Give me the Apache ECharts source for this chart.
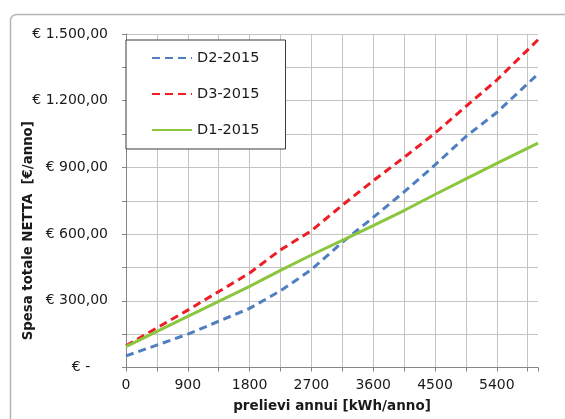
<!DOCTYPE html>
<html>
<head>
<meta charset="utf-8">
<script src="https://cdn.jsdelivr.net/npm/echarts@6/dist/echarts.min.js"></script>
<style>
html,body{margin:0;padding:0;background:#fff;}
#chart{width:565px;height:419px;}
</style>
</head>
<body>
<div id="chart"></div>
<script>
// Consumption points (kWh/anno)
const xValues = [0, 900, 1800, 2250, 2700, 3150, 3600, 4050, 4500, 4950, 5400, 6000];
// Series values (€/anno)
const d2Values = [52, 150, 266, 345, 440, 563, 675, 790, 911, 1039, 1147, 1320];
const d3Values = [98, 258, 425, 529, 615, 730, 840, 945, 1054, 1174, 1293, 1474];
const d1Values = [94, 230, 365, 437, 506, 572, 638, 706, 778, 848, 918, 1009];
const seriesNames = ['D2-2015', 'D3-2015', 'D1-2015'];
// Tick labels
const xTicks = [0, 900, 1800, 2700, 3600, 4500, 5400];
const xTickLabels = ['0', '900', '1800', '2700', '3600', '4500', '5400'];
const yTicks = [0, 300, 600, 900, 1200, 1500];
const yTickLabels = ['€ -    ', '€ 300,00', '€ 600,00', '€ 900,00', '€ 1.200,00', '€ 1.500,00'];

function pairs(vals) { return xValues.map((x, i) => [x, vals[i]]); }

const chart = echarts.init(document.getElementById('chart'), null, {renderer: 'canvas'});
const FONT = 'DejaVu Sans';
chart.setOption({
  animation: false,
  backgroundColor: '#ffffff',
  graphic: [{
    type: 'rect', left: 8, top: 12, silent: true, z: -10,
    shape: {width: 620, height: 460, r: 6},
    style: {fill: 'none', stroke: '#b4b4b4', lineWidth: 1.5}
  }],
  grid: {left: 126, right: 27, top: 34, bottom: 51.5},
  legend: {
    data: seriesNames,
    orient: 'vertical',
    left: 126, top: 40,
    padding: [10, 26, 11, 25],
    itemGap: 20,
    itemWidth: 40, itemHeight: 14,
    borderColor: '#3a3a3a', borderWidth: 1,
    backgroundColor: '#ffffff',
    itemStyle: {color: 'rgba(0,0,0,0)', borderWidth: 0, opacity: 0},
    textStyle: {fontFamily: FONT, fontSize: 14.5, color: '#1a1a1a', lineHeight: 16}
  },
  xAxis: {
    type: 'value', min: 0, max: 6000, interval: 450,
    name: 'prelievi annui [kWh/anno]',
    nameLocation: 'middle', nameGap: 32, nameMoveOverlap: false,
    nameTextStyle: {fontFamily: FONT, fontSize: 13.5, fontWeight: 'bold', color: '#1a1a1a'},
    axisLine: {show: true, lineStyle: {color: '#868686', width: 1}},
    axisTick: {show: true, length: 4, lineStyle: {color: '#868686'}},
    axisLabel: {
      fontFamily: FONT, fontSize: 14, color: '#1a1a1a', margin: 11,
      formatter: v => { const i = xTicks.indexOf(v); return i >= 0 ? xTickLabels[i] : ''; }
    },
    splitLine: {show: true, showMaxLine: false, lineStyle: {color: '#c4c4c4', width: 1}}
  },
  yAxis: {
    type: 'value', min: 0, max: 1500, interval: 150,
    name: 'Spesa totale NETTA  [€/anno]',
    nameLocation: 'middle', nameGap: 91, nameRotate: 90, nameMoveOverlap: false,
    nameTextStyle: {fontFamily: FONT, fontSize: 13.3, fontWeight: 'bold', color: '#1a1a1a', padding: [0, 60, 0, 0]},
    axisLine: {show: true, lineStyle: {color: '#868686', width: 1}},
    axisTick: {show: true, length: 4, lineStyle: {color: '#868686'}},
    axisLabel: {
      fontFamily: FONT, fontSize: 14, color: '#1a1a1a', margin: 18,
      formatter: v => { const i = yTicks.indexOf(v); return i >= 0 ? yTickLabels[i] : ''; }
    },
    splitLine: {show: true, lineStyle: {color: '#c4c4c4', width: 1}}
  },
  series: [
    {name: seriesNames[0], type: 'line', data: pairs(d2Values), symbol: 'none', showSymbol: false,
     color: '#4f7fc0', lineStyle: {color: '#4f7fc0', width: 3, type: [8, 5]}},
    {name: seriesNames[1], type: 'line', data: pairs(d3Values), symbol: 'none', showSymbol: false,
     color: '#ee1c24', lineStyle: {color: '#ee1c24', width: 3, type: [8, 5]}},
    {name: seriesNames[2], type: 'line', data: pairs(d1Values), symbol: 'none', showSymbol: false,
     color: '#8cc63f', lineStyle: {color: '#8cc63f', width: 3, type: 'solid'}}
  ]
});
</script>
</body>
</html>
